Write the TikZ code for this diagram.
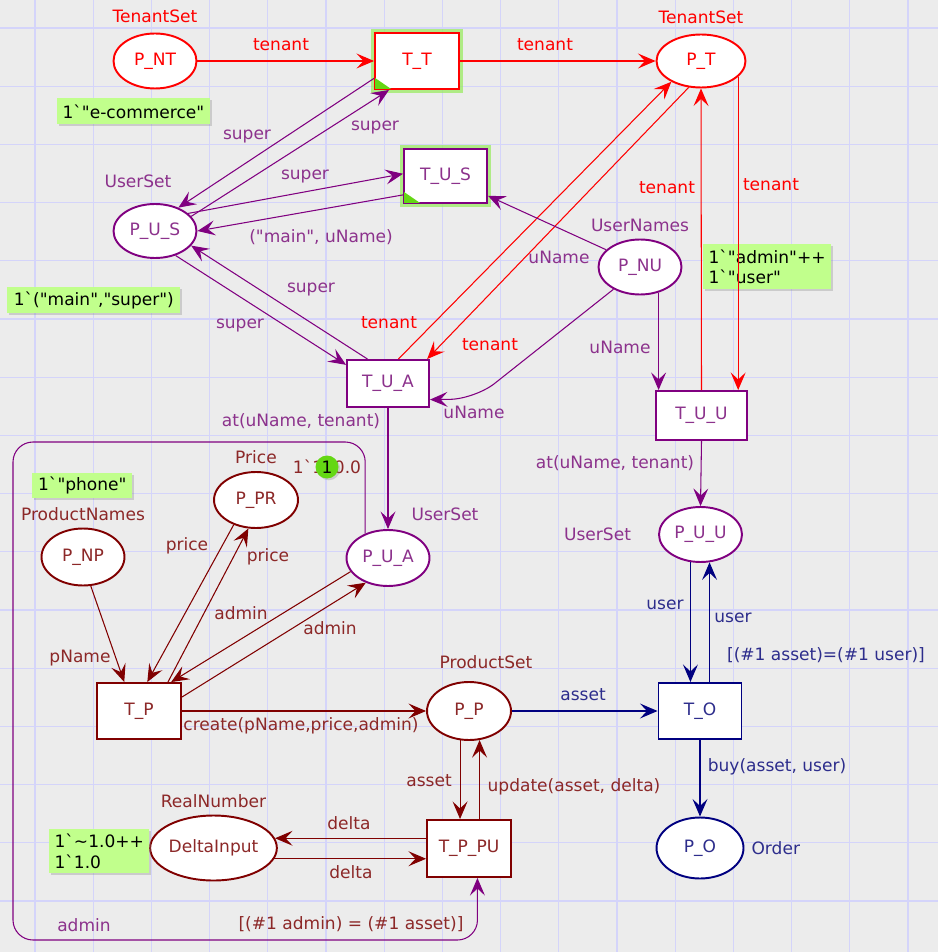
\documentclass[tikz,border=0pt]{standalone}
\usepackage{fontspec}
\setmainfont{DejaVu Sans}
\usepackage{tikz}
\usetikzlibrary{arrows.meta,positioning,shapes.geometric,shadows,calc}
\definecolor{netred}{RGB}{255,0,0}
\definecolor{netpurple}{RGB}{128,0,128}
\definecolor{txtpurple}{RGB}{140,50,140}
\definecolor{netmaroon}{RGB}{128,0,0}
\definecolor{txtmaroon}{RGB}{140,40,40}
\definecolor{netnavy}{RGB}{0,0,128}
\definecolor{txtnavy}{RGB}{45,45,140}
\definecolor{tokgreen}{RGB}{193,255,140}
\definecolor{glowgreen}{RGB}{150,235,90}
\definecolor{tricolor}{RGB}{100,215,20}
\definecolor{bggray}{RGB}{236,236,236}
\definecolor{gridblue}{RGB}{212,212,250}
\newcommand{\bqt}{\textasciigrave}
\newcommand{\dqt}{\textquotedbl}
\tikzset{
  plc/.style  = {ellipse, draw, fill=white, line width=1.1pt,
                 minimum width=1.66cm, minimum height=1.1cm, inner sep=0pt},
  trn/.style  = {rectangle, draw, fill=white, line width=1.1pt,
                 minimum width=1.68cm, minimum height=1.12cm, inner sep=0pt},
  rd/.style   = {draw=netred, text=netred},
  pu/.style   = {draw=netpurple, text=txtpurple},
  mr/.style   = {draw=netmaroon, text=txtmaroon},
  nv/.style   = {draw=netnavy, text=txtnavy},
  glow/.style = {preaction={draw=glowgreen, line width=5pt, opacity=0.7}},
  tok/.style  = {rectangle, fill=tokgreen, align=left, anchor=north west,
                 inner xsep=3pt, inner ysep=2pt, text=black,
                 drop shadow={shadow xshift=1.2pt, shadow yshift=-1.2pt, opacity=0.3}},
  lbl/.style  = {inner sep=1pt},
  lrd/.style  = {lbl, text=netred},
  lpu/.style  = {lbl, text=txtpurple},
  lmr/.style  = {lbl, text=txtmaroon},
  lnv/.style  = {lbl, text=txtnavy},
  ar/.style   = {-{Stealth[length=10pt, width=8.5pt, inset=4pt]}, line width=0.6pt}
}

\begin{document}
\begin{tikzpicture}[x=0.02cm, y=-0.02cm, font=\fontsize{9.7}{11.5}\selectfont]
    % ---- Canvas ----
    \fill[bggray] (0,0) rectangle (938,952);
    \useasboundingbox (0,0) rectangle (938,952);
    \foreach \k in {0,...,15} {
      \draw[gridblue, line width=0.6pt] ({35+58.2*\k},0) -- ({35+58.2*\k},952);
      \draw[gridblue, line width=0.6pt] (0,{28+58.2*\k}) -- (938,{28+58.2*\k});
    }

    % ---- Tenant page ----
    \node[plc, rd] (pnt) at (155,61) {P\_NT};
    \node[trn, rd, glow] (tt) at (417,61) {T\_T};
    \node[plc, rd, minimum width=1.78cm, minimum height=1.06cm] (pt) at (701,61) {P\_T};
    \node[lrd, above=1.5mm of pnt] (pnt-type) {TenantSet};
    \node[lrd, above=1.5mm of pt] (pt-type) {TenantSet};

    % ---- Users ----
    \node[trn, pu, glow, minimum width=1.66cm, minimum height=1.08cm] (tus) at (445.5,176) {T\_U\_S};
    \node[plc, pu, minimum height=1.08cm] (pus) at (155,231) {P\_U\_S};
    \node[plc, pu] (pnu) at (640,267) {P\_NU};
    \node[trn, pu, minimum width=1.64cm, minimum height=0.94cm] (tua) at (388,383.5) {T\_U\_A};
    \node[trn, pu, minimum width=1.82cm, minimum height=0.98cm] (tuu) at (701.5,415.5) {T\_U\_U};
    \node[plc, pu] (puu) at (700.5,534.5) {P\_U\_U};
    \node[plc, pu, minimum height=1.12cm] (pua) at (388,558) {P\_U\_A};
    \node[lpu] (pus-type) at (138,181) {UserSet};
    \node[lpu, above=1mm of pnu] (pnu-type) {UserNames};
    \node[lpu] (pua-type) at (445,514) {UserSet};
    \node[lpu, left=5mm of puu] (puu-type) {UserSet};

    % ---- Products ----
    \node[plc, mr, minimum width=1.68cm, minimum height=1.12cm] (ppr) at (256,500) {P\_PR};
    \node[plc, mr, minimum height=1.14cm] (pnp) at (83,557) {P\_NP};
    \node[trn, mr] (tp) at (139,711) {T\_P};
    \node[plc, mr, minimum width=1.68cm, minimum height=1.16cm] (pp) at (469,711) {P\_P};
    \node[trn, mr, minimum height=1.14cm] (tppu) at (469,848.5) {T\_P\_PU};
    \node[plc, mr, minimum width=2.3cm, minimum height=1.3cm] (di) at (213.5,848) {DeltaInput};
    \node[lmr, above=1mm of ppr] (ppr-type) {Price};
    \node[lmr, above=1mm of pnp] (pnp-type) {ProductNames};
    \node[lmr] (pp-type) at (486,662) {ProductSet};
    \node[lmr, above=1mm of di] (di-type) {RealNumber};

    % ---- Orders ----
    \node[trn, nv, minimum width=1.66cm] (tor) at (700,711) {T\_O};
    \node[plc, nv, minimum width=1.74cm, minimum height=1.22cm] (po) at (700,848) {P\_O};
    \node[lnv, right=1mm of po] (po-type) {Order};

    % ---- Markings ----
    \node[tok, minimum width=3cm, minimum height=0.52cm] (m-nt) at (57,98) {1\bqt\dqt e-commerce\dqt};
    \node[tok, minimum width=3.46cm, minimum height=0.52cm] (m-us) at (7,287) {1\bqt(\dqt main\dqt,\dqt super\dqt)};
    \node[tok, minimum width=2.44cm, minimum height=0.9cm] (m-nu) at (703,244) {1\bqt\dqt admin\dqt++\\1\bqt\dqt user\dqt};
    \node[tok, minimum width=2cm, minimum height=0.5cm] (m-np) at (32,473) {1\bqt\dqt phone\dqt};
    \node[tok, minimum width=1.9cm, minimum height=0.88cm] (m-di) at (49,829) {1\bqt\textasciitilde1.0++\\1\bqt1.0};
    \node[lmr] (m-pr) at (327,467) {1\bqt100.0};
    \node[circle, fill=tricolor, minimum size=0.46cm, inner sep=0pt,
          drop shadow={shadow xshift=1pt, shadow yshift=-1pt, opacity=0.3}] (m-prcount) at (327,467) {1};

    % ---- Enabled marks ----
    \fill[tricolor] ([shift={(1,-1)}]tt.south west) -- +(16,0) -- +(0,-11) -- cycle;
    \fill[tricolor] ([shift={(1,-1)}]tus.south west) -- +(16,0) -- +(0,-11) -- cycle;

    % ---- Arcs: tenants ----
    \draw[ar, netred] (pnt) -- (tt);
    \draw[ar, netred] (tt) -- (pt);
    \draw[ar, netred] (tua.67) -- (pt.215);
    \draw[ar, netred] (pt.245) -- (tua.32);
    \draw[ar, netred] (tuu.north) -- (pt.south);
    \draw[ar, netred] (pt.-23) -- (pt.-23 |- tuu.north);

    % ---- Arcs: users ----
    \draw[ar, netpurple] (tt.202) -- (pus.45);
    \draw[ar, netpurple] (pus.22) -- (tt.226);
    \draw[ar, netpurple] (pus.28) -- (tus.177);
    \draw[ar, netpurple] (tus.204) -- (pus.0);
    \draw[ar, netpurple] (tua.130) -- (pus.-22);
    \draw[ar, netpurple] (pus.-50) -- (tua.156);
    \draw[ar, netpurple] (pnu.153) -- (tus.335);
    \coordinate (nubend) at (475,399);
    \draw[ar, netpurple, rounded corners=0.5cm] (pnu.220) -- (nubend) -- (tua.-21);
    \draw[ar, netpurple] (pnu.-54) -- (pnu.-54 |- tuu.north);
    \draw[ar, netpurple] (tua.south) -- (pua.north);
    \draw[ar, netpurple] (tuu.south) -- (puu.north);
    \coordinate (loopnw) at (13,442);
    \coordinate (loopsw) at (13,940);
    \draw[ar, netpurple, rounded corners=0.4cm] (pua.133) |- (loopnw) -- (loopsw) -| (tppu.-74);

    % ---- Arcs: products ----
    \draw[ar, netmaroon] (pnp.-75) -- (tp.117);
    \draw[ar, netmaroon] (ppr.228) -- (tp.74);
    \draw[ar, netmaroon] (tp.45) -- (ppr.-105);
    \draw[ar, netmaroon] (pua.200) -- (tp.42);
    \draw[ar, netmaroon] (tp.18) -- (pua.228);
    \draw[ar, netmaroon] (tp) -- (pp);
    \draw[ar, netmaroon] (pp.-107) -- (pp.-107 |- tppu.north);
    \draw[ar, netmaroon] (pp.-70 |- tppu.north) -- (pp.-70);
    \draw[ar, netmaroon] (di.9 -| tppu.west) -- (di.9);
    \draw[ar, netmaroon] (di.-10) -- (di.-10 -| tppu.west);

    % ---- Arcs: orders ----
    \draw[ar, netnavy] (puu.-110) -- (puu.-110 |- tor.north);
    \draw[ar, netnavy] (puu.-72 |- tor.north) -- (puu.-72);
    \draw[ar, netnavy] (pp) -- (tor);
    \draw[ar, netnavy] (tor) -- (po);

    % ---- Inscriptions ----
    \node[lrd] (i1) at (281,45) {tenant};
    \node[lrd] (i2) at (545,45) {tenant};
    \node[lpu] (i3) at (247,137) {super};
    \node[lpu] (i4) at (375,128) {super};
    \node[lpu] (i5) at (305,177) {super};
    \node[lpu] (i6) at (321,237) {(\dqt main\dqt, uName)};
    \node[lpu] (i7) at (311,290) {super};
    \node[lpu] (i8) at (240,326) {super};
    \node[lrd] (i9) at (389,323) {tenant};
    \node[lrd] (i10) at (490,345) {tenant};
    \node[lpu] (i11) at (559,257) {uName};
    \node[lpu] (i12) at (620,347) {uName};
    \node[lpu] (i13) at (474,412) {uName};
    \node[lrd] (i14) at (667,188) {tenant};
    \node[lrd] (i15) at (771,185) {tenant};
    \node[lpu] (i16) at (301,421) {at(uName, tenant)};
    \node[lpu] (i17) at (615,463) {at(uName, tenant)};
    \node[lmr] (i18) at (187,546) {price};
    \node[lmr] (i19) at (268,557) {price};
    \node[lmr] (i20) at (241,613) {admin};
    \node[lmr] (i21) at (330,628) {admin};
    \node[lmr] (i22) at (80,658) {pName};
    \node[lmr] (i23) at (301,726) {create(pName,price,admin)};
    \node[lnv] (i24) at (583,695) {asset};
    \node[lnv] (i25) at (826,655) {[(\#1 asset)=(\#1 user)]};
    \node[lnv] (i26) at (665,605) {user};
    \node[lnv] (i27) at (733,618) {user};
    \node[lnv] (i28) at (777,767) {buy(asset, user)};
    \node[lmr] (i29) at (429,781) {asset};
    \node[lmr] (i30) at (574,787) {update(asset, delta)};
    \node[lmr] (i31) at (349,823) {delta};
    \node[lmr] (i32) at (351,872) {delta};
    \node[lpu] (i33) at (84,925) {admin};
    \node[lmr] (i34) at (351,924) {[(\#1 admin) = (\#1 asset)]};
\end{tikzpicture}
\end{document}
